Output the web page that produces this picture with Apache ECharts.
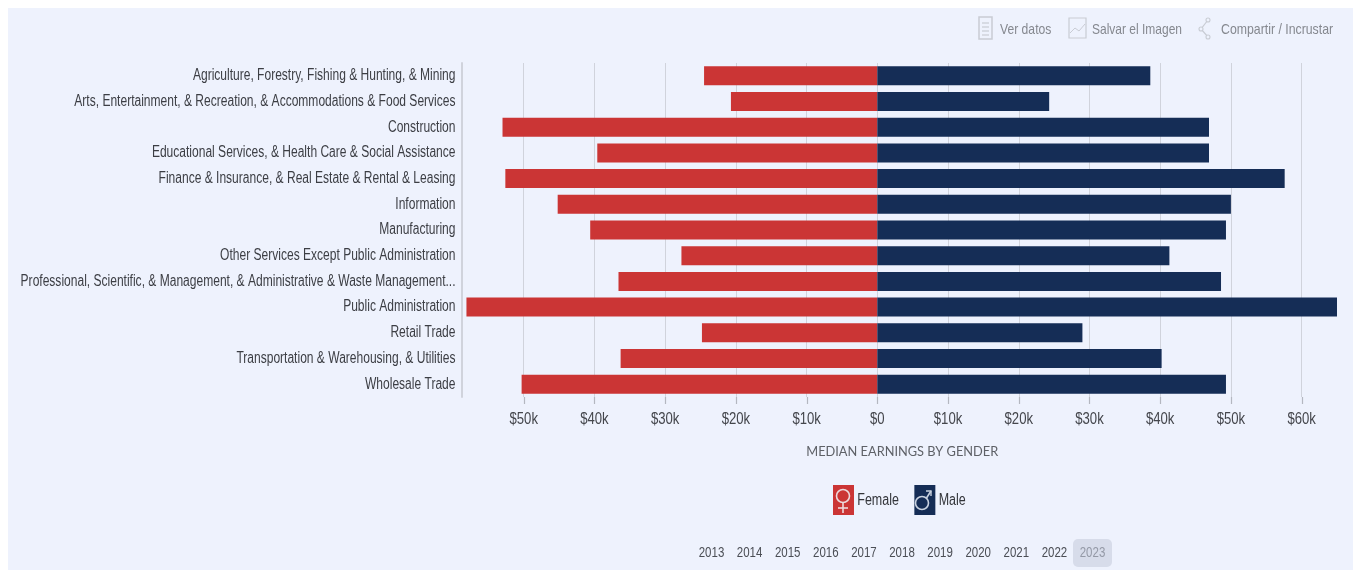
<!DOCTYPE html>
<html>
<head>
<meta charset="utf-8">
<script src="https://cdn.jsdelivr.net/npm/echarts@6/dist/echarts.min.js"></script>
<style>
html,body{margin:0;padding:0;background:#fff;width:1353px;height:570px;overflow:hidden}
#panel{position:absolute;left:8px;top:8px;width:1345px;height:562px;background:#eef2fd}
#chart{position:absolute;left:0;top:0;width:1353px;height:570px}
</style>
</head>
<body>
<div id="panel"></div>
<div id="chart"></div>
<script>
var categories = [
  "Agriculture, Forestry, Fishing & Hunting, & Mining",
  "Arts, Entertainment, & Recreation, & Accommodations & Food Services",
  "Construction",
  "Educational Services, & Health Care & Social Assistance",
  "Finance & Insurance, & Real Estate & Rental & Leasing",
  "Information",
  "Manufacturing",
  "Other Services Except Public Administration",
  "Professional, Scientific, & Management, & Administrative & Waste Management...",
  "Public Administration",
  "Retail Trade",
  "Transportation & Warehousing, & Utilities",
  "Wholesale Trade"
];
var femaleEarnings = [24500, 20700, 53000, 39600, 52600, 45200, 40600, 27700, 36600, 58100, 24800, 36300, 50300];
var maleEarnings = [38600, 24300, 46900, 46900, 57600, 50000, 49300, 41300, 48600, 65000, 29000, 40200, 49300];
var tickValues = [-50000, -40000, -30000, -20000, -10000, 0, 10000, 20000, 30000, 40000, 50000, 60000];
var years = ["2013","2014","2015","2016","2017","2018","2019","2020","2021","2022","2023"];
var toolbarLabels = ["Ver datos", "Salvar el Imagen", "Compartir / Incrustar"];
var legendNames = ["Female", "Male"];

var SANS = '"Liberation Sans",sans-serif';
var RED = '#cb3535', NAVY = '#152d56', GRID = '#d0d3dc';

function fmt(v){ return v===0 ? '$0' : '$'+Math.abs(v)/1000+'k'; }

var graphics = [];
function txt(x, y, s, size, color, align, sx) {
  graphics.push({type:'text', x:x, y:y, scaleX:sx, silent:true,
    style:{text:s, fill:color, font:size+'px '+SANS, textAlign:align||'left', textVerticalAlign:'middle'}});
}
// toolbar
var TB = '#c9ccd4';
var tbX = [1000, 1092, 1221], tbScale = [0.81, 0.8, 0.82];
toolbarLabels.forEach(function(t,i){ txt(tbX[i], 30, t, 15, '#85888f', 'left', tbScale[i]); });
graphics.push({type:'rect', shape:{x:979,y:17,width:13,height:22}, style:{fill:'none',stroke:TB,lineWidth:1.5}});
[23,27,31,35].forEach(function(y){
  graphics.push({type:'line', shape:{x1:982,y1:y,x2:989,y2:y}, style:{stroke:TB,lineWidth:1.2}});
});
graphics.push({type:'rect', shape:{x:1069,y:18,width:17,height:20}, style:{fill:'none',stroke:TB,lineWidth:1.2}});
graphics.push({type:'polyline', shape:{points:[[1070,33],[1075,28],[1079,31],[1085,24]]}, style:{fill:'none',stroke:TB,lineWidth:1}});
graphics.push({type:'polyline', shape:{points:[[1208,20],[1201,29],[1208,37]]}, style:{fill:'none',stroke:TB,lineWidth:1.2}});
[[1208,20],[1201,29],[1208,37]].forEach(function(p){
  graphics.push({type:'circle', shape:{cx:p[0],cy:p[1],r:2}, style:{fill:'#eef2fd',stroke:TB,lineWidth:1.1}});
});
// gender symbols over the legend swatches
var SYM = '#ecd9dc';
graphics.push({type:'circle', z:10, shape:{cx:843,cy:496,r:6.5}, style:{fill:'none',stroke:SYM,lineWidth:1.6}});
graphics.push({type:'line', z:10, shape:{x1:843,y1:502.5,x2:843,y2:513}, style:{stroke:SYM,lineWidth:1.6}});
graphics.push({type:'line', z:10, shape:{x1:838,y1:508,x2:848,y2:508}, style:{stroke:SYM,lineWidth:1.6}});
var SYM2 = '#c9d2e0';
graphics.push({type:'circle', z:10, shape:{cx:922,cy:503,r:6.5}, style:{fill:'none',stroke:SYM2,lineWidth:1.6}});
graphics.push({type:'polyline', z:10, shape:{points:[[926.5,498],[931,491]]}, style:{fill:'none',stroke:SYM2,lineWidth:1.6}});
graphics.push({type:'polyline', z:10, shape:{points:[[926,491],[931,491],[931,496]]}, style:{fill:'none',stroke:SYM2,lineWidth:1.4}});
// year selector
graphics.push({type:'rect', shape:{x:1073,y:539,width:39,height:28,r:5}, style:{fill:'#d7dcea'}});
years.forEach(function(y,i){
  txt(711.5 + i*38.1, 553, y, 14, i===years.length-1 ? '#9499a6' : '#4b4e55', 'center', 0.82);
});

var chart = echarts.init(document.getElementById('chart'));
chart.setOption({
  animation:false,
  backgroundColor:'transparent',
  grid:{left:461.5, right:16, top:63, bottom:173, outerBoundsMode:'none'},
  legend:{
    left:833, top:485, padding:0, itemWidth:21, itemHeight:30, itemGap:2, icon:'rect', selectedMode:false,
    data:legendNames,
    textStyle:{fontFamily:SANS, fontSize:16, color:'#33353a'}
  },
  xAxis:{
    type:'value', min:-58800, max:65000,
    axisLine:{show:false},
    axisTick:{show:false, customValues:tickValues},
    splitLine:{show:true, lineStyle:{color:GRID, width:1}},
    axisLabel:{customValues:tickValues, margin:15, fontFamily:SANS, fontSize:16, color:'#44464c', formatter:fmt},
    name:'MEDIAN EARNINGS BY GENDER', nameLocation:'middle', nameGap:48,
    nameTextStyle:{fontFamily:'Lato,sans-serif', fontSize:12.8, color:'#5e6167', padding:[0,0,0,6]}
  },
  yAxis:{
    type:'category', inverse:true, data:categories,
    axisLine:{show:true, onZero:false, lineStyle:{color:GRID, width:2}},
    axisTick:{show:false},
    splitLine:{show:false},
    axisLabel:{margin:6, interval:0, fontFamily:SANS, fontSize:16, color:'#3c3e44'}
  },
  series:[
    {name:legendNames[0], type:'bar', stack:'total', barWidth:19, itemStyle:{color:RED},
     data:femaleEarnings.map(function(v){return -v;})},
    {name:legendNames[1], type:'bar', stack:'total', barWidth:19, itemStyle:{color:NAVY},
     data:maleEarnings}
  ],
  graphic:{elements:graphics}
});

// Tick stubs under the plot, positioned through the axis scale.
tickValues.forEach(function(v){
  var x = Math.round(chart.convertToPixel({xAxisIndex:0}, v)) + 0.5;
  graphics.push({type:'line', silent:true, shape:{x1:x,y1:397,x2:x,y2:404}, style:{stroke:'#b4b7c0',lineWidth:1.2}});
});
chart.setOption({graphic:{elements:graphics}});

// The reference uses a condensed face: squeeze the library's own labels horizontally.
var squeeze = {};
categories.forEach(function(c){ squeeze[c] = 0.752; });
tickValues.forEach(function(v){ squeeze[fmt(v)] = 0.82; });
legendNames.forEach(function(n){ squeeze[n] = 0.78; });
chart.getZr().storage.getDisplayList(true).forEach(function(el){
  var t = el.style && el.style.text;
  var host = el.parent;
  if (el.type === 'tspan' && host && squeeze[t] && !host.scaleXSet) {
    host.scaleXSet = true;
    host.scaleX = squeeze[t];
    if (legendNames.indexOf(t) >= 0) { host.x += 4; host.y += 1; }
    host.markRedraw();
  }
});
chart.getZr().refreshImmediately();
</script>
</body>
</html>
